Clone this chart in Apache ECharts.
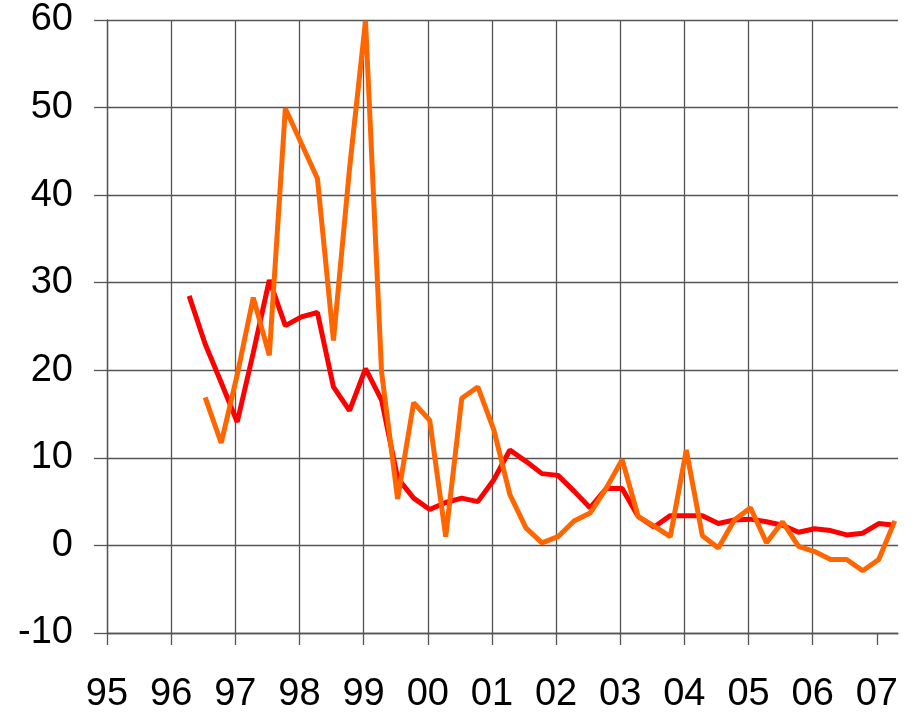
<!DOCTYPE html>
<html>
<head>
<meta charset="utf-8">
<script src="https://cdn.jsdelivr.net/npm/echarts@6/dist/echarts.min.js"></script>
<style>
  html, body { margin: 0; padding: 0; background: #fff; }
  #chart { width: 913px; height: 714px; }
</style>
</head>
<body>
<div id="chart"></div>
<script>
// quarterly observations, 96Q2 .. 07Q2
const quarters = [
  '1996Q2', '1996Q3', '1996Q4', '1997Q1', '1997Q2', '1997Q3', '1997Q4', '1998Q1', '1998Q2',
  '1998Q3', '1998Q4', '1999Q1', '1999Q2', '1999Q3', '1999Q4', '2000Q1', '2000Q2', '2000Q3',
  '2000Q4', '2001Q1', '2001Q2', '2001Q3', '2001Q4', '2002Q1', '2002Q2', '2002Q3', '2002Q4',
  '2003Q1', '2003Q2', '2003Q3', '2003Q4', '2004Q1', '2004Q2', '2004Q3', '2004Q4', '2005Q1',
  '2005Q2', '2005Q3', '2005Q4', '2006Q1', '2006Q2', '2006Q3', '2006Q4', '2007Q1', '2007Q2'
]

const redValues = [
  28.5, 23.0, 18.6, 14.1, 22.0, 30.3, 25.1, 26.1, 26.6,
  18.1, 15.4, 20.2, 16.6, 7.7, 5.4, 4.1, 4.9, 5.4,
  5.0, 7.5, 10.9, 9.6, 8.2, 8.0, 6.2, 4.3, 6.5,
  6.5, 3.3, 2.1, 3.4, 3.4, 3.4, 2.5, 2.9, 3.0,
  2.7, 2.3, 1.5, 1.9, 1.7, 1.2, 1.4, 2.5, 2.3
]

// orange series starts one quarter later (96Q3)
const orangeValues = [
  null, 16.9, 11.7, 19.5, 28.3, 21.7, 49.9, 45.9, 41.9,
  23.4, 43.0, 59.9, 19.8, 5.3, 16.3, 14.3, 1.0, 16.8,
  18.1, 13.2, 5.8, 2.0, 0.3, 1.0, 2.8, 3.7, 6.5,
  9.8, 3.3, 2.2, 1.0, 10.9, 1.1, -0.3, 2.9, 4.3,
  0.3, 2.7, -0.1, -0.7, -1.6, -1.6, -2.9, -1.6, 2.8
]

const yearTicks = [1995, 1996, 1997, 1998, 1999, 2000, 2001, 2002, 2003, 2004, 2005, 2006, 2007]

const gridColor = '#555'

function quarterToTime(q) {
  const year = parseInt(q.slice(0, 4))
  const qn = parseInt(q.slice(5))
  return year + (qn - 1) / 4 + 0.03
}

function pairs(values) {
  return quarters.map((q, i) => [quarterToTime(q), values[i]]).filter(p => p[1] !== null)
}

const chart = echarts.init(document.getElementById('chart'))

chart.setOption({
  animation: false,
  grid: {
    left: 107,
    right: 15,
    top: 20,
    bottom: 79,
    containLabel: false
  },
  xAxis: {
    type: 'value',
    min: 1995,
    max: 2007.33,
    interval: 1,
    axisLine: { show: true, onZero: false, lineStyle: { color: gridColor, width: 1.3 } },
    axisTick: {
      show: true,
      length: 12,
      customValues: yearTicks,
      lineStyle: { color: gridColor, width: 1.3 }
    },
    axisLabel: {
      customValues: yearTicks,
      margin: 43,
      fontFamily: 'Liberation Sans, Arial, sans-serif',
      fontSize: 38,
      color: '#000',
      formatter: v => String(Math.round(v) % 100).padStart(2, '0')
    },
    splitLine: {
      show: true,
      showMaxLine: false,
      lineStyle: { color: gridColor, width: 1.3 }
    }
  },
  yAxis: {
    type: 'value',
    min: -10,
    max: 60,
    interval: 10,
    axisLine: { show: true, onZero: false, lineStyle: { color: gridColor, width: 1.3 } },
    axisTick: { show: true, length: 13, lineStyle: { color: gridColor, width: 1.3 } },
    axisLabel: {
      margin: 34,
      fontFamily: 'Liberation Sans, Arial, sans-serif',
      fontSize: 38,
      color: '#000'
    },
    splitLine: { show: true, lineStyle: { color: gridColor, width: 1.3 } }
  },
  series: [
    {
      name: 'red',
      type: 'line',
      data: pairs(redValues),
      showSymbol: false,
      lineStyle: { color: '#ff0000', width: 5 },
      z: 3
    },
    {
      name: 'orange',
      type: 'line',
      data: pairs(orangeValues),
      showSymbol: false,
      lineStyle: { color: '#ff6600', width: 5 },
      z: 4
    }
  ]
})
</script>
</body>
</html>
